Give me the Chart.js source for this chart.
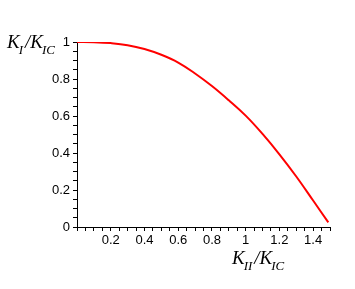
<!DOCTYPE html>
<html>
<head>
<meta charset="utf-8">
<script src="https://cdn.jsdelivr.net/npm/chart.js@4.4.0/dist/chart.umd.min.js"></script>
<style>
html,body{margin:0;padding:0;background:#fff;}
#wrap{position:relative;width:355px;height:289px;}
</style>
</head>
<body>
<div id="wrap"><canvas id="c" width="355" height="289"></canvas></div>
<script>
// Data
const kII = [0, 0.1, 0.2, 0.3, 0.4, 0.5, 0.6, 0.7, 0.8, 0.9, 1.0, 1.1, 1.2, 1.3, 1.4, 1.49];
const kI  = [1.0, 0.999, 0.994, 0.983, 0.962, 0.931, 0.889, 0.830, 0.762, 0.685, 0.602, 0.503, 0.393, 0.273, 0.143, 0.025];
const xTickLabels = ['0.2', '0.4', '0.6', '0.8', '1', '1.2', '1.4'];
const yTickLabels = ['0', '0.2', '0.4', '0.6', '0.8', '1'];

const pts = kII.map((x, i) => ({x: x, y: kI[i]}));

function fmt(v) { return String(Math.round(v * 10) / 10); }
function isMajor(v) { return Math.abs(v * 5 - Math.round(v * 5)) < 1e-6; }

const titlePlugin = {
  id: 'titles',
  afterDraw(chart) {
    const ctx = chart.ctx;
    function draw(x, base, sub1, sub2) {
      ctx.save();
      ctx.fillStyle = '#000';
      ctx.textBaseline = 'alphabetic';
      ctx.textAlign = 'left';
      const big = 'italic 19px "Liberation Serif", "DejaVu Serif", serif';
      const small = 'italic 13px "Liberation Serif", "DejaVu Serif", serif';
      ctx.font = big; ctx.fillText('K', x, base); x += ctx.measureText('K').width - 1;
      ctx.font = small; ctx.fillText(sub1, x, base + 6); x += ctx.measureText(sub1).width + 2;
      ctx.font = big; ctx.fillText('/', x, base); x += ctx.measureText('/').width;
      ctx.fillText('K', x, base); x += ctx.measureText('K').width - 1;
      ctx.font = small; ctx.fillText(sub2, x, base + 6);
      ctx.restore();
    }
    draw(7, 48, 'I', 'IC');
    draw(232, 264, 'II', 'IC');
  }
};

new Chart(document.getElementById('c'), {
  type: 'scatter',
  data: {
    datasets: [{
      data: pts,
      showLine: true,
      borderColor: '#ff0000',
      borderWidth: 2,
      pointRadius: 0,
      tension: 0.4,
      fill: false
    }]
  },
  options: {
    responsive: false,
    animation: false,
    devicePixelRatio: 1,
    layout: { padding: { left: 0, top: 42, right: 25, bottom: 0 } },
    plugins: { legend: { display: false }, tooltip: { enabled: false }, title: { display: false } },
    scales: {
      x: {
        type: 'linear', min: 0, max: 1.5,
        border: { display: true, color: '#000', width: 1 },
        grid: { drawOnChartArea: false, drawTicks: true, tickLength: 4, color: '#000', tickColor: '#000' },
        ticks: {
          stepSize: 0.05, autoSkip: false, maxRotation: 0, padding: 2,
          color: '#000', font: { family: '"Liberation Sans", Arial, sans-serif', size: 13 },
          callback: (v) => { const s = fmt(v); return (isMajor(v) && xTickLabels.includes(s)) ? s : ''; }
        },
        afterFit: (s) => { s.height = 62; }
      },
      y: {
        type: 'linear', min: 0, max: 1,
        border: { display: true, color: '#000', width: 1 },
        grid: { drawOnChartArea: false, drawTicks: true, tickLength: 4, color: '#000', tickColor: '#000' },
        ticks: {
          stepSize: 0.05, autoSkip: false, padding: 3,
          color: '#000', font: { family: '"Liberation Sans", Arial, sans-serif', size: 13 },
          callback: (v) => { const s = fmt(v); return (isMajor(v) && yTickLabels.includes(s)) ? s : ''; }
        },
        afterFit: (s) => { s.width = 77; }
      }
    }
  },
  plugins: [titlePlugin]
});
</script>
</body>
</html>
